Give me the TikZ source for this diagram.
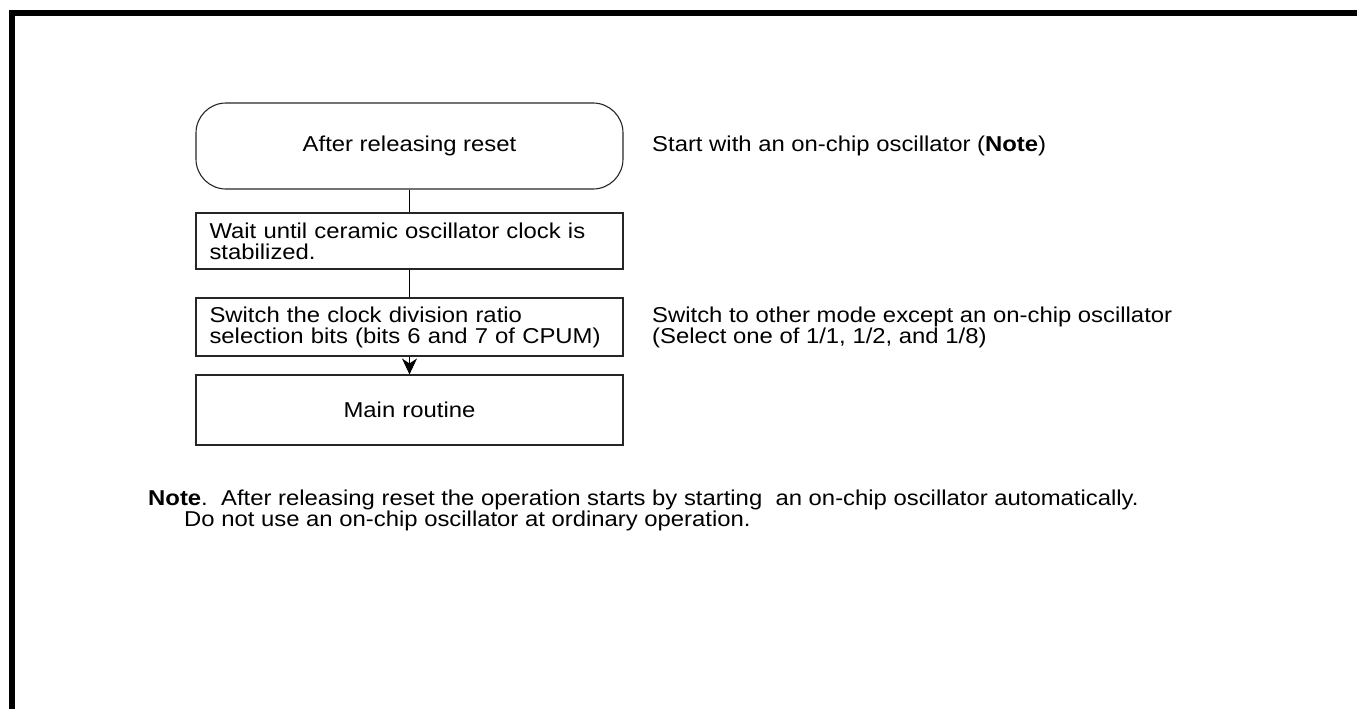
\documentclass[tikz,border=0pt]{standalone}
\usepackage{fontspec}
\setmainfont{Liberation Sans}[FakeStretch=1.11]
\usetikzlibrary{arrows.meta}
\begin{document}
\begin{tikzpicture}[x=1pt,y=-1pt,
  font=\fontsize{21.5}{21}\selectfont,
  flowbox/.style={draw=black!85, line width=1.1pt, minimum width=427pt, text width=400pt, inner xsep=13.5pt, inner ysep=4pt, align=left},
  startbox/.style={draw=black!85, line width=1.1pt, minimum width=427pt, rounded corners=30pt, align=center},
  conn/.style={line width=1pt, black},
  sidetext/.style={anchor=west, align=left, inner sep=0pt}]
\useasboundingbox (0,0) rectangle (1357,709);
% frame
\fill[black] (9,10) rectangle (1357,16);
\fill[black] (9,10) rectangle (15,709);
% nodes
\node[startbox, minimum height=86pt] (start) at (409.5,146) {After releasing reset};
\node[flowbox, minimum height=56pt] (wait) at (409.5,241) {Wait until ceramic oscillator clock is\\stabilized.};
\node[flowbox, minimum height=58pt] (switch) at (409.5,327) {Switch the clock division ratio\\selection bits (bits 6 and 7 of CPUM)};
\node[flowbox, minimum height=70pt, align=center] (main) at (409.5,410) {Main routine};
% connectors
\draw[conn] (start) -- (wait);
\draw[conn] (wait) -- (switch);
\draw[conn, -{Stealth[length=16pt, width=15pt, inset=5pt]}] (switch) -- (main);
% side texts
\node[sidetext] (t1) at (652,146) {Start with an on-chip oscillator (\textbf{Note})};
\node[sidetext] (t2) at (652,327) {Switch to other mode except an on-chip oscillator\\(Select one of 1/1, 1/2, and 1/8)};
\node[sidetext] (n1) at (148,500) {\textbf{Note}.\ \ After releasing reset the operation starts by starting\ \ an on-chip oscillator automatically.};
\node[sidetext] (n2) at (184,521) {Do not use an on-chip oscillator at ordinary operation.};
\end{tikzpicture}
\end{document}
